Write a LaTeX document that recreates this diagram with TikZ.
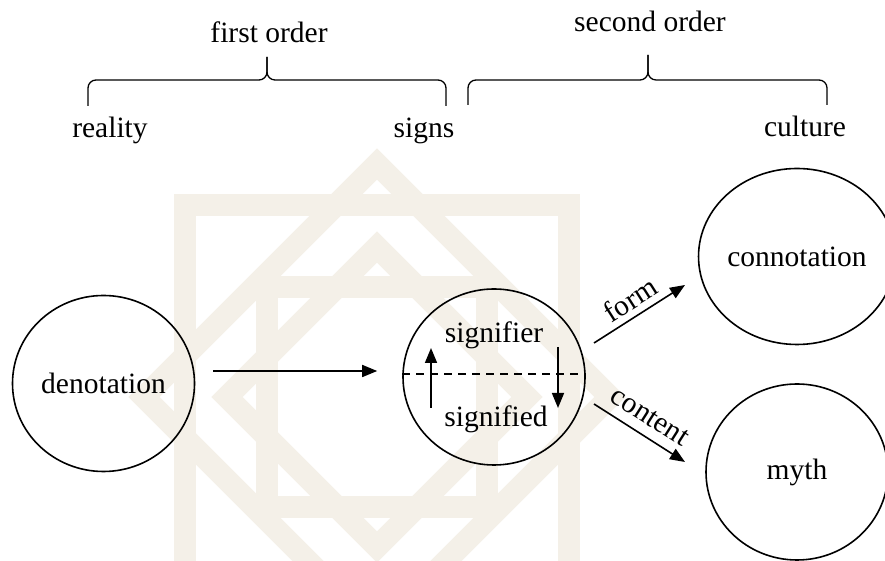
\documentclass[tikz,border=0pt]{standalone}
\usepackage{fontspec}
\setmainfont{Liberation Serif}
\usetikzlibrary{shapes.geometric, arrows.meta, positioning}
\definecolor{wm}{HTML}{F4F0E8}
\newcommand{\bigtxt}{\fontsize{29.5}{34}\selectfont}
\tikzset{
  orb/.style={ellipse, draw, line width=1.6pt, minimum width=182pt, minimum height=176pt, inner sep=0pt, font=\bigtxt},
  word/.style={font=\bigtxt, inner sep=0pt, anchor=base},
  slant/.style={midway, above, sloped, font=\bigtxt, inner sep=6pt},
  arr/.style={-{Triangle[length=15pt,width=12pt]}, line width=1.6pt},
  curl/.style={line width=1.3pt, rounded corners=8pt},
  band/.style={draw=wm, line width=22pt},
}

\begin{document}
\begin{tikzpicture}[x=1pt,y=1pt]
\fill[white] (0,0) rectangle (885,561);
\useasboundingbox (0,0) rectangle (885,561);
% knot in the back
\begin{scope}
\clip (0,0) rectangle (885,561);
\draw[band] (185,-28) rectangle (569,356);
\draw[band] (377,397) -- (610,164) -- (377,-69) -- (144,164) -- cycle;
\draw[band] (267,54) rectangle (487,274);
\draw[band] (377,314) -- (527,164) -- (377,14) -- (227,164) -- cycle;
\end{scope}
% orders
\node[word] (fo) at (269,518) {first order};
\node[word] (so) at (650,529) {second order};
\node[word] (re) at (110,423) {reality};
\node[word] (sg) at (424,423) {signs};
\node[word] (cu) at (805,424) {culture};
\draw[curl] (88,455) |- (267,481) -- (267,504);
\draw[curl] (446,455) |- (267,481) -- (267,504);
\draw[curl] (468,456) |- (648,481) -- (648,506);
\draw[curl] (827,456) |- (648,481) -- (648,506);
% circles
\node[orb] (den) at (103.5,177.5) {denotation};
\node[orb] (sig) at (494,184) {};
\node[orb] (con) at (797,304.5) {connotation};
\node[orb] (myt) at (797,89) {myth};
\node[word] (sfr) at (494,218) {signifier};
\node[word] (sfd) at (496,134) {signified};
\draw[line width=1.5pt, dash pattern=on 8pt off 6pt] ([yshift=3pt]sig.west) -- ([yshift=3pt]sig.east);
\draw[arr] ([shift={(-63,-31)}]sig.center) -- ([shift={(-63,29)}]sig.center);
\draw[arr] ([shift={(64,30)}]sig.center) -- ([shift={(64,-31)}]sig.center);
\draw[arr] ([shift={(18,12.5)}]den.east) -- ([shift={(-25,6)}]sig.west);
\draw[arr] ([shift={(100,34)}]sig.center) -- node[slant] (fm) {form} ([shift={(-112,-28.5)}]con.center);
\draw[arr] ([shift={(100,-27)}]sig.center) -- node[slant, inner sep=10pt] (ct) {content} ([shift={(-112,10)}]myt.center);
\end{tikzpicture}
\end{document}
